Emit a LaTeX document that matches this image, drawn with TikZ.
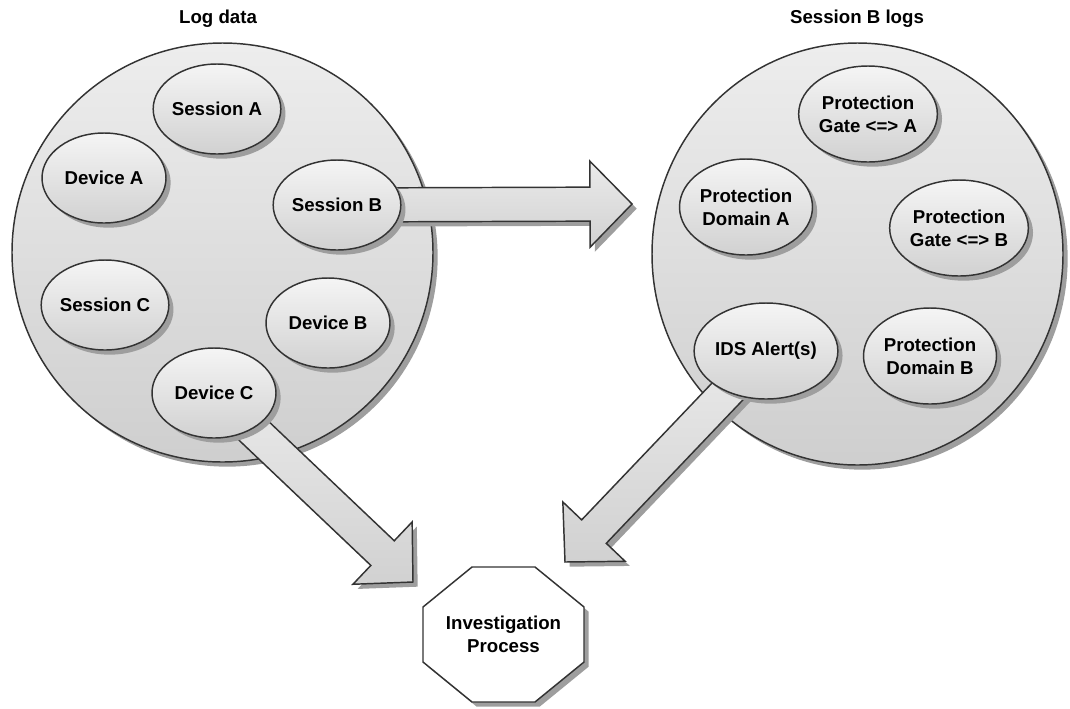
\documentclass[tikz,border=0pt]{standalone}
\usepackage{fontspec}
\setmainfont{Liberation Sans}
\usetikzlibrary{calc,shapes.geometric,shadows}

\pgfdeclarelayer{bg}
\pgfdeclarelayer{mid}
\pgfsetlayers{bg,mid,main}

% block arrow from a start point #1 (hidden under its node) to tip #2
\newcommand\flowarrow[2]{%
  \coordinate (#2-base) at ($(#2)!31.5pt!(#1)$);
  \draw[bigarrow]
    ($(#1)!12.75pt!90:(#2)$) --
    ($(#2-base)!12.75pt!90:(#2)$) --
    ($(#2-base)!32.25pt!90:(#2)$) --
    (#2) --
    ($(#2-base)!32.25pt!-90:(#2)$) --
    ($(#2-base)!12.75pt!-90:(#2)$) --
    ($(#1)!12.75pt!-90:(#2)$) -- cycle;}

\begin{document}
\begin{tikzpicture}[x=0.75pt,y=-0.75pt,
  every node/.style={font=\fontsize{14}{17}\selectfont\bfseries,
                     align=center, inner sep=0pt},
  edge/.style={draw=black!80, line width=1.1pt},
  castshadow/.style={drop shadow={shadow xshift=3.5pt, shadow yshift=-3.5pt,
                     fill=black!38, opacity=1}},
  pool/.style={ellipse, edge, castshadow, top color=black!7, bottom color=black!19},
  item/.style={ellipse, edge, castshadow, top color=black!4, bottom color=black!18,
               minimum width=93pt, minimum height=67.5pt},
  wide/.style={item, minimum width=99.75pt, minimum height=72pt},
  bigarrow/.style={edge, castshadow, top color=black!8, bottom color=black!18},
  octo/.style={edge, castshadow, fill=white}
]
\useasboundingbox (0,0) rectangle (1070,708);

% titles
\node (ttlL) at (218,19) {Log data};
\node (ttlR) at (857,19) {Session B logs};

% the two log pools
\begin{pgfonlayer}{bg}
  \node[pool, minimum width=315.75pt, minimum height=314.25pt] (logs) at (222.5,252.5) {};
  \node[pool, minimum width=308.25pt, minimum height=316.5pt] (sblogs) at (857.5,254) {};
\end{pgfonlayer}

% entries of the log data
\node[item] (sA) at (217,109) {Session A};
\node[item] (dA) at (104,178) {Device A};
\node[item] (sB) at (337,205) {Session B};
\node[item] (sC) at (105,305) {Session C};
\node[item] (dB) at (328,323) {Device B};
\node[item] (dC) at (214,393) {Device C};

% entries of the session B logs
\node[wide] (pgA) at (868,114) {Protection\\Gate <=> A};
\node[wide] (pdA) at (746,207) {Protection\\Domain A};
\node[wide] (pgB) at (959,228) {Protection\\Gate <=> B};
\node[wide] (ids) at (766,351) {IDS Alert(s)};
\node[wide] (pdB) at (930,356) {Protection\\Domain B};

% investigation step
\node (inv) at (503.5,634.5) {Investigation\\Process};

\coordinate (tipH) at (632,204);
\coordinate (tipC) at (413,582);
\coordinate (tipI) at (565,562);

\begin{pgfonlayer}{mid}
  \flowarrow{sB.center}{tipH}
  \flowarrow{dC.center}{tipC}
  \flowarrow{ids.center}{tipI}
  \draw[octo] ($(inv.center)+(-31.5,-67.5)$) -- ++(63,0) -- ++(49,40) -- ++(0,55)
    -- ++(-49,40) -- ++(-63,0) -- ++(-49,-40) -- ++(0,-55) -- cycle;
\end{pgfonlayer}
\end{tikzpicture}
\end{document}
